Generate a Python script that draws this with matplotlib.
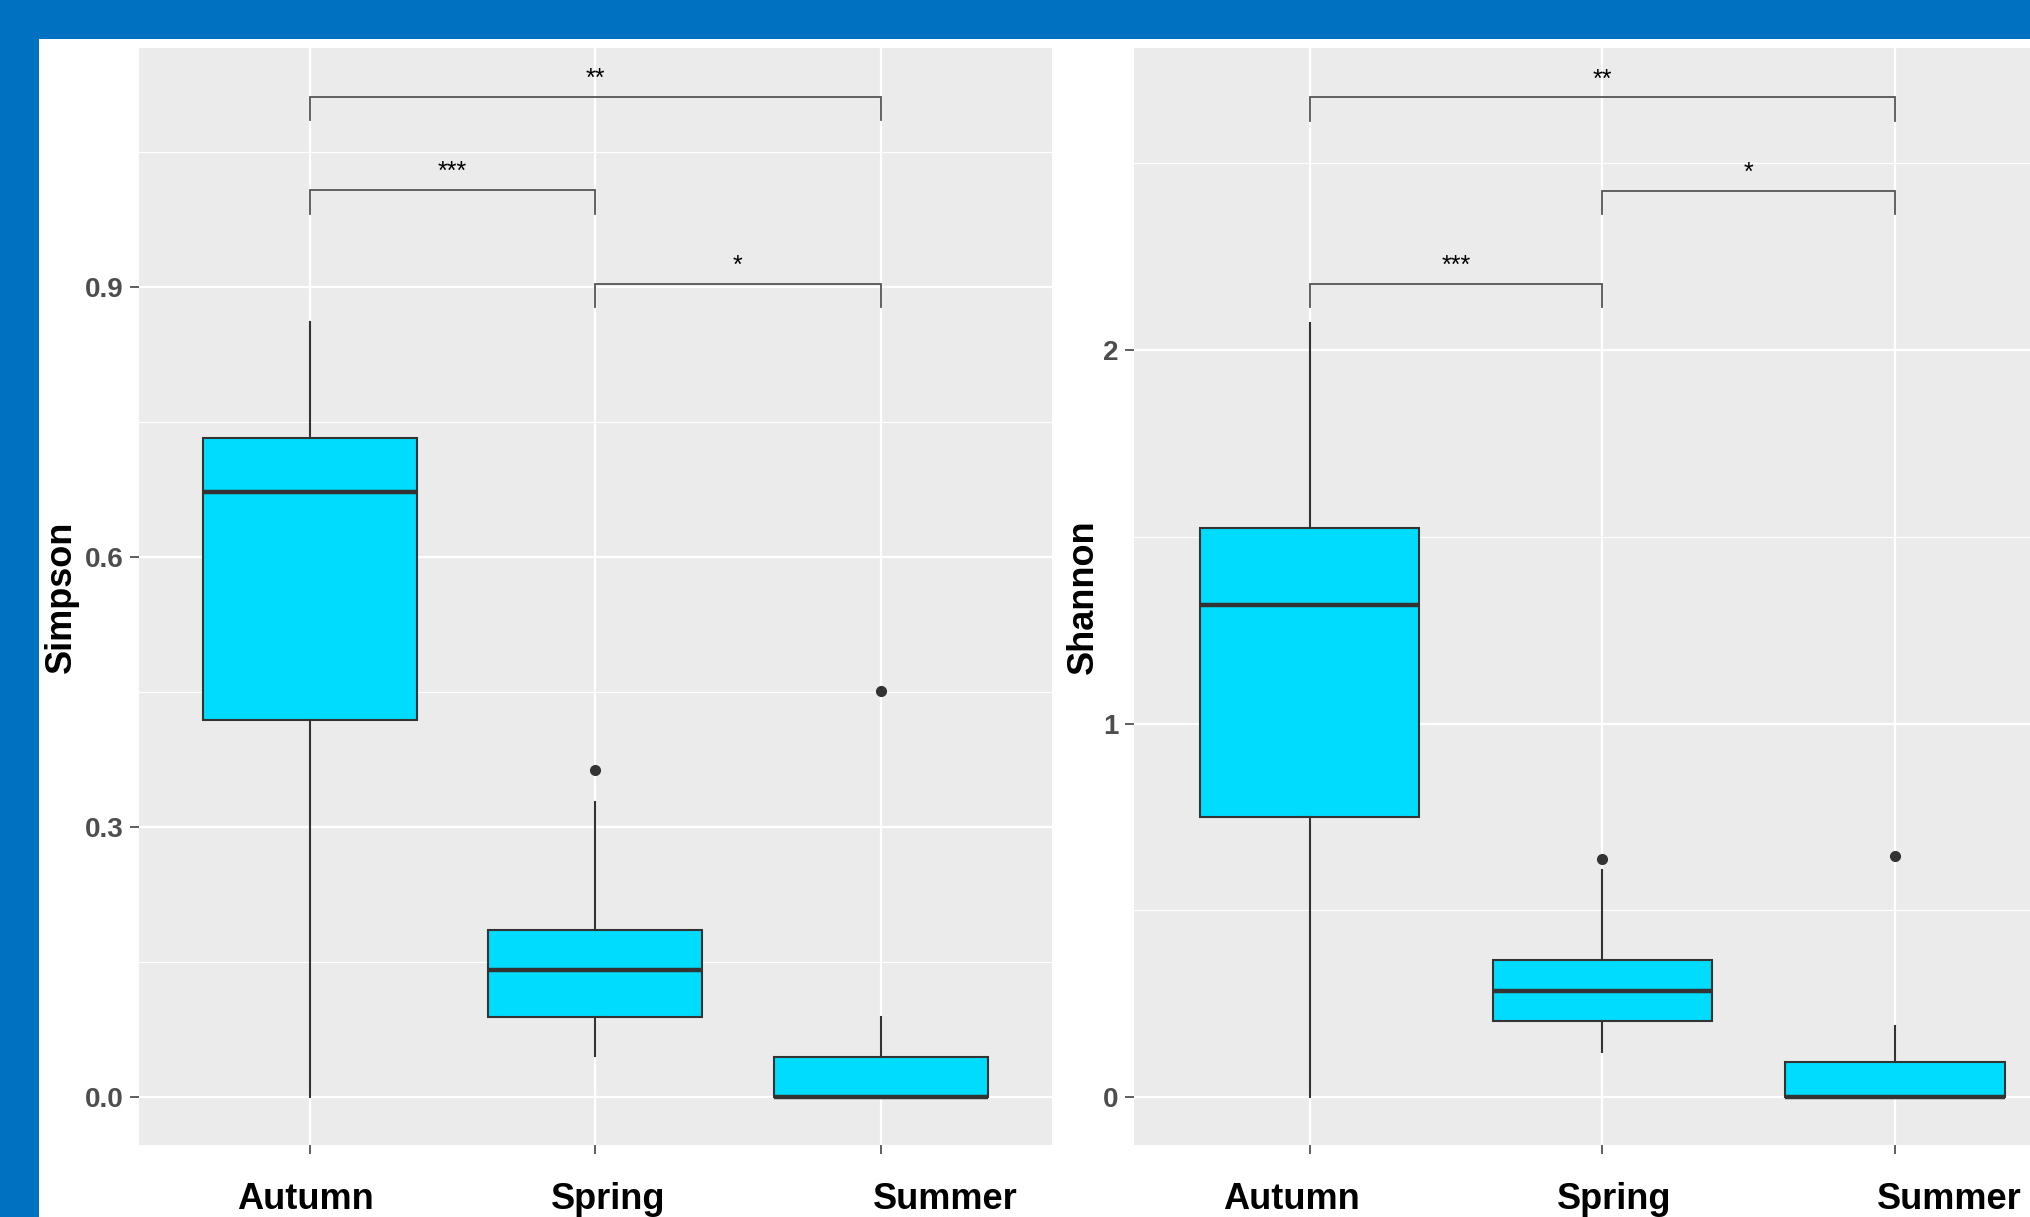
import matplotlib
matplotlib.use("Agg")
import matplotlib.pyplot as plt
from matplotlib import font_manager
from matplotlib.patches import Rectangle
from matplotlib.transforms import blended_transform_factory

seasons = ["Autumn", "Spring", "Summer"]

# Simpson index (left panel)
simpson_whislo = [0.0, 0.046, 0.0]
simpson_q1 = [0.419, 0.089, 0.0]
simpson_med = [0.673, 0.141, 0.0]
simpson_q3 = [0.733, 0.186, 0.045]
simpson_whishi = [0.861, 0.328, 0.089]
simpson_fliers = [[], [0.364], [0.452]]
simpson_pairs = [(1, 3), (1, 2), (2, 3)]
simpson_bracket_y = [1.112, 1.008, 0.904]
simpson_signif = ["**", "***", "*"]
simpson_ticks = [0.0, 0.3, 0.6, 0.9]
simpson_ticklabels = ["0.0", "0.3", "0.6", "0.9"]

# Shannon index (right panel)
shannon_whislo = [0.0, 0.121, 0.0]
shannon_q1 = [0.749, 0.205, 0.0]
shannon_med = [1.317, 0.284, 0.0]
shannon_q3 = [1.522, 0.367, 0.094]
shannon_whishi = [2.073, 0.607, 0.191]
shannon_fliers = [[], [0.638], [0.645]]
shannon_pairs = [(1, 3), (2, 3), (1, 2)]
shannon_bracket_y = [2.676, 2.426, 2.177]
shannon_signif = ["**", "*", "***"]
shannon_ticks = [0, 1, 2]
shannon_ticklabels = ["0", "1", "2"]

BLUE = "#0070C0"
FILL = "#00DCFD"
DARK = "#333333"

names = {f.name for f in font_manager.fontManager.ttflist}
NARROW = "Liberation Sans Narrow" if "Liberation Sans Narrow" in names else "Liberation Sans"
plt.rcParams["font.family"] = ["Liberation Sans", "DejaVu Sans"]

W, H = 2031, 1217
fig = plt.figure(figsize=(W / 100, H / 100), dpi=100, facecolor="white")

# blue frame (left and top strips)
fig.patches.append(Rectangle((0, 0), 39 / W, 1, transform=fig.transFigure,
                             facecolor=BLUE, edgecolor="none", zorder=0))
fig.patches.append(Rectangle((0, 1 - 39 / H), 1, 39 / H, transform=fig.transFigure,
                             facecolor=BLUE, edgecolor="none", zorder=0))

bottom = 1 - 1145 / H
height = (1145 - 48) / H


def panel(rect, ylim, ticks, ticklabels, minor, ylabel, ylabel_x,
          whislo, q1, med, q3, whishi, fliers, pairs, bracket_y, signif, xoffs):
    ax = fig.add_axes(rect)
    ax.set_facecolor("#EBEBEB")
    ax.set_axisbelow(True)
    for s in ax.spines.values():
        s.set_visible(False)

    stats = [dict(whislo=whislo[i], q1=q1[i], med=med[i], q3=q3[i],
                  whishi=whishi[i], fliers=fliers[i]) for i in range(len(seasons))]
    ax.bxp(stats, positions=[1, 2, 3], widths=0.75, patch_artist=True,
           showcaps=False,
           boxprops=dict(facecolor=FILL, edgecolor=DARK, linewidth=1.5),
           medianprops=dict(color=DARK, linewidth=3.2, solid_capstyle="butt"),
           whiskerprops=dict(color=DARK, linewidth=1.5),
           flierprops=dict(marker="o", markerfacecolor=DARK, markeredgecolor=DARK,
                           markersize=7))

    ax.set_xlim(0.4, 3.6)
    ax.set_ylim(*ylim)
    ax.set_yticks(ticks)
    ax.set_yticklabels(ticklabels)
    ax.set_yticks(minor, minor=True)
    ax.set_xticks([1, 2, 3])
    ax.set_xticklabels([])
    ax.grid(True, which="major", color="white", linewidth=1.6)
    ax.grid(True, which="minor", axis="y", color="white", linewidth=0.8)
    ax.tick_params(axis="y", which="minor", length=0)
    ax.tick_params(axis="both", which="major", length=6.5, width=1.1, color=DARK,
                   pad=4.5)
    for lab in ax.get_yticklabels():
        lab.set_fontsize(20)
        lab.set_fontweight("bold")
        lab.set_color("#4D4D4D")

    trans = blended_transform_factory(ax.transData, ax.transAxes)
    for i, name in enumerate(seasons):
        ax.text(i + 1 + xoffs[i], -0.05, name, transform=trans, ha="center",
                va="center", fontsize=26, fontweight="bold", family=NARROW,
                color="black")

    ax.text(ylabel_x, 0.5, ylabel, transform=ax.transAxes, rotation=90,
            ha="center", va="center", fontsize=26, fontweight="bold",
            family=NARROW, color="black")

    tip = 0.0213 * (ylim[1] - ylim[0])
    for (a, b), y, s in zip(pairs, bracket_y, signif):
        ax.plot([a, a, b, b], [y - tip, y, y, y - tip], color="#555555",
                linewidth=1.3, solid_joinstyle="miter", clip_on=False)
        ax.text((a + b) / 2, y + 0.25 * tip, s, ha="center", va="bottom",
                fontsize=18, color="black")
    return ax


panel([138.6 / W, bottom, (1051.8 - 138.6) / W, height], (-0.053, 1.166),
      simpson_ticks, simpson_ticklabels, [0.15, 0.45, 0.75, 1.05],
      "Simpson", -0.084,
      simpson_whislo, simpson_q1, simpson_med, simpson_q3, simpson_whishi,
      simpson_fliers, simpson_pairs, simpson_bracket_y, simpson_signif,
      [-0.014, 0.045, 0.227])

panel([1134 / W, bottom, (2070.7 - 1134) / W, height], (-0.128, 2.808),
      shannon_ticks, shannon_ticklabels, [0.5, 1.5, 2.5],
      "Shannon", -0.054,
      shannon_whislo, shannon_q1, shannon_med, shannon_q3, shannon_whishi,
      shannon_fliers, shannon_pairs, shannon_bracket_y, shannon_signif,
      [-0.062, 0.04, 0.185])

fig.savefig("out.png", dpi=100, facecolor="white")
